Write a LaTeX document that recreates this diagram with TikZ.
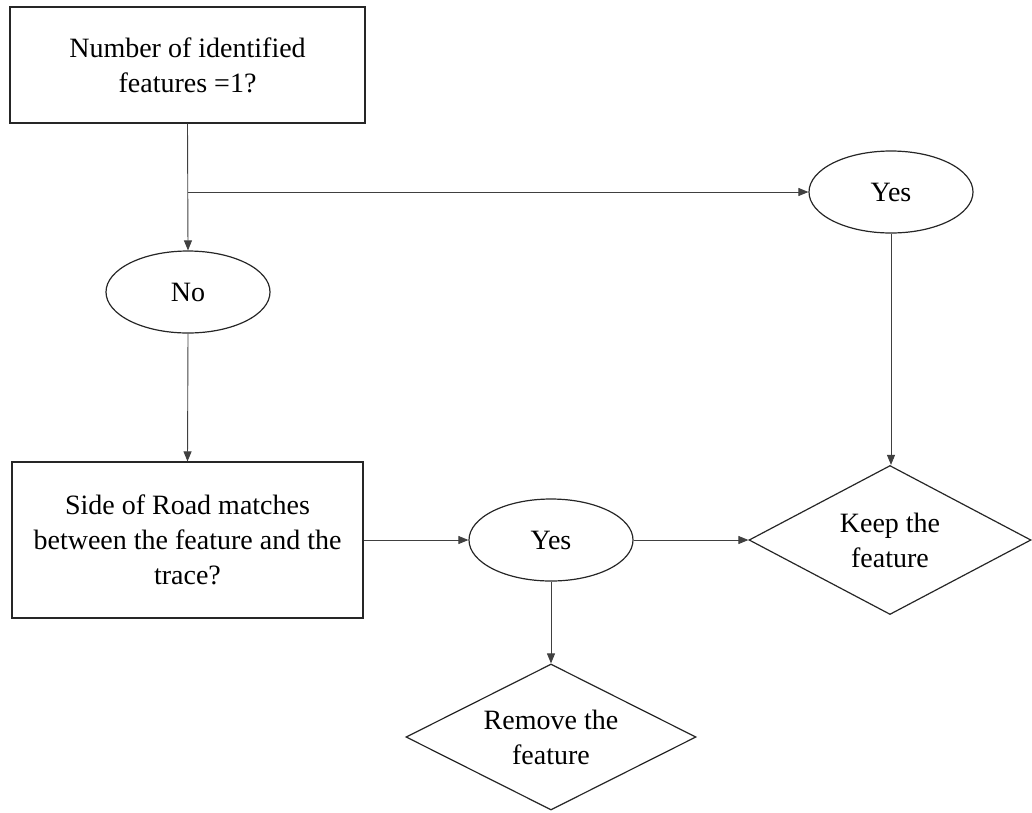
\documentclass[tikz,border=0pt]{standalone}
\usepackage{fontspec}
\setmainfont{Liberation Serif}
\usetikzlibrary{shapes.geometric,arrows.meta}
\begin{document}
\begin{tikzpicture}[x=1pt,y=-1pt,
  every node/.style={font=\fontsize{28}{35}\selectfont, align=center, inner sep=0pt},
  box/.style={draw=black!85, line width=1.2pt, rectangle},
  oval/.style={draw=black!85, line width=1.2pt, ellipse, minimum width=164pt, minimum height=82pt},
  dia/.style={draw=black!85, line width=1.2pt, diamond, aspect=1.95},
  conn/.style={draw=black!75, line width=0.9pt},
  arr/.style={conn, -{Triangle[length=10pt,width=8pt]}}]
\useasboundingbox (0,0) rectangle (1032,812);
\node[box, minimum width=355pt, minimum height=116pt] (r1) at (187.5,65) {Number of identified\\features =1?};
\node[oval] (no) at (188,292) {No};
\node[oval] (yes1) at (891,192) {Yes};
\node[box, minimum width=351pt, minimum height=156pt] (r2) at (187.5,540) {Side of Road matches\\between the feature and the\\trace?};
\node[oval] (yes2) at (551,540) {Yes};
\node[dia, minimum width=282pt, minimum height=149pt] (keep) at (890,540) {Keep the\\feature};
\node[dia, minimum width=290pt, minimum height=146pt] (remove) at (551,737) {Remove the\\feature};
\coordinate (br) at (r1.south |- yes1.west);
\draw[arr] (r1.south) -- (no.north);
\draw[arr] (br) -- (yes1.west);
\draw[arr] (no.south) -- (r2.north);
\draw[arr] (r2.east) -- (yes2.west);
\draw[arr] (yes2.east) -- (keep.west);
\draw[arr] (yes1.south) -- (yes1.south |- keep.north);
\draw[arr] (yes2.south) -- (remove.north);
\end{tikzpicture}
\end{document}
